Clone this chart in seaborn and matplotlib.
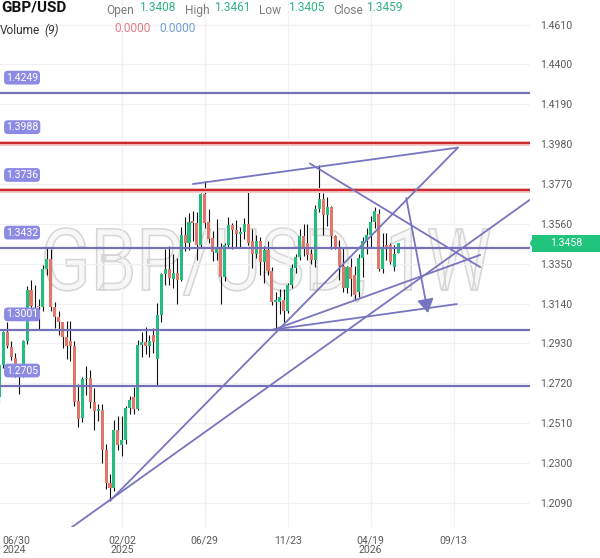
import numpy as np
import pandas as pd
import matplotlib
matplotlib.use("Agg")
import matplotlib.pyplot as plt
import seaborn as sns
from matplotlib.textpath import TextPath
from matplotlib.font_manager import FontProperties
from matplotlib.patches import PathPatch, Rectangle, Polygon
from matplotlib.transforms import Affine2D, IdentityTransform, blended_transform_factory

# ---------------- data (weekly GBP/USD candles, index 0 = week of 2024-06-30) ----------------
opens = [1.2645, 1.2815, 1.2990, 1.2910, 1.2855, 1.2800, 1.2760, 1.2945, 1.3212, 1.3125,
         1.3125, 1.3120, 1.3320, 1.3375, 1.3120, 1.3070, 1.3045, 1.2965, 1.2945, 1.2915,
         1.2625, 1.2535, 1.2740, 1.2745, 1.2620, 1.2575, 1.2580, 1.2370, 1.2195, 1.2165,
         1.2475, 1.2395, 1.2420, 1.2590, 1.2645, 1.2585, 1.2920, 1.2935, 1.2915, 1.2975,
         1.2850, 1.3080, 1.3295, 1.3320, 1.3270, 1.3300, 1.3265, 1.3500, 1.3460, 1.3575,
         1.3565, 1.3450, 1.3715, 1.3570, 1.3485, 1.3405, 1.3440, 1.3280, 1.3450, 1.3555,
         1.3525, 1.3505, 1.3515, 1.3560, 1.3470, 1.3400, 1.3470, 1.3360, 1.3420, 1.3310,
         1.3150, 1.3150, 1.3160, 1.3100, 1.3237, 1.3325, 1.3385, 1.3495, 1.3460, 1.3400,
         1.3370, 1.3637, 1.3690, 1.3605, 1.3650, 1.3495, 1.3432, 1.3340, 1.3220, 1.3330,
         1.3290, 1.3200, 1.3380, 1.3470, 1.3500, 1.3570, 1.3610, 1.3320, 1.3450, 1.3450,
         1.3330, 1.3408]
highs = [1.2820, 1.2995, 1.3045, 1.2940, 1.2880, 1.2810, 1.2950, 1.3230, 1.3265, 1.3240,
         1.3165, 1.3345, 1.3435, 1.3430, 1.3150, 1.3100, 1.3045, 1.3050, 1.3050, 1.2940,
         1.2715, 1.2750, 1.2810, 1.2790, 1.2695, 1.2610, 1.2610, 1.2400, 1.2240, 1.2525,
         1.2545, 1.2545, 1.2600, 1.2650, 1.2700, 1.2950, 1.2990, 1.3015, 1.2975, 1.3010,
         1.3145, 1.3300, 1.3425, 1.3445, 1.3400, 1.3380, 1.3545, 1.3595, 1.3615, 1.3630,
         1.3620, 1.3725, 1.3788, 1.3640, 1.3520, 1.3585, 1.3460, 1.3460, 1.3595, 1.3565,
         1.3580, 1.3545, 1.3590, 1.3726, 1.3535, 1.3500, 1.3490, 1.3445, 1.3470, 1.3330,
         1.3200, 1.3215, 1.3215, 1.3250, 1.3350, 1.3400, 1.3535, 1.3560, 1.3560, 1.3430,
         1.3660, 1.3868, 1.3720, 1.3700, 1.3655, 1.3500, 1.3475, 1.3440, 1.3340, 1.3380,
         1.3340, 1.3400, 1.3490, 1.3540, 1.3600, 1.3650, 1.3640, 1.3510, 1.3510, 1.3460,
         1.3450, 1.3461]
lows = [1.2615, 1.2800, 1.2905, 1.2840, 1.2750, 1.2665, 1.2755, 1.2925, 1.3100, 1.3090,
        1.3000, 1.3100, 1.3290, 1.3100, 1.3010, 1.2975, 1.2905, 1.2850, 1.2835, 1.2600,
        1.2487, 1.2515, 1.2660, 1.2590, 1.2475, 1.2520, 1.2300, 1.2160, 1.2100, 1.2150,
        1.2370, 1.2335, 1.2400, 1.2560, 1.2560, 1.2580, 1.2860, 1.2875, 1.2860, 1.2880,
        1.2708, 1.3040, 1.3235, 1.3240, 1.3220, 1.3140, 1.3260, 1.3415, 1.3420, 1.3470,
        1.3370, 1.3440, 1.3540, 1.3460, 1.3365, 1.3370, 1.3140, 1.3260, 1.3440, 1.3430,
        1.3440, 1.3440, 1.3480, 1.3450, 1.3325, 1.3380, 1.3290, 1.3250, 1.3290, 1.3130,
        1.3005, 1.3085, 1.3040, 1.3090, 1.3220, 1.3300, 1.3370, 1.3390, 1.3370, 1.3350,
        1.3330, 1.3620, 1.3500, 1.3550, 1.3430, 1.3425, 1.3265, 1.3200, 1.3195, 1.3180,
        1.3160, 1.3175, 1.3280, 1.3400, 1.3440, 1.3540, 1.3310, 1.3300, 1.3370, 1.3350,
        1.3310, 1.3405]
closes = [1.2815, 1.2990, 1.2915, 1.2860, 1.2810, 1.2770, 1.2945, 1.3212, 1.3125, 1.3128,
          1.3120, 1.3320, 1.3375, 1.3120, 1.3070, 1.3045, 1.2965, 1.2915, 1.2915, 1.2620,
          1.2530, 1.2740, 1.2745, 1.2620, 1.2575, 1.2585, 1.2370, 1.2195, 1.2165, 1.2475,
          1.2395, 1.2420, 1.2590, 1.2630, 1.2585, 1.2920, 1.2935, 1.2915, 1.2940, 1.2935,
          1.3080, 1.3295, 1.3320, 1.3275, 1.3300, 1.3265, 1.3500, 1.3460, 1.3570, 1.3565,
          1.3450, 1.3715, 1.3565, 1.3480, 1.3410, 1.3440, 1.3280, 1.3450, 1.3555, 1.3525,
          1.3505, 1.3515, 1.3560, 1.3460, 1.3400, 1.3470, 1.3360, 1.3420, 1.3310, 1.3150,
          1.3160, 1.3175, 1.3100, 1.3237, 1.3325, 1.3385, 1.3495, 1.3440, 1.3395, 1.3370,
          1.3637, 1.3690, 1.3605, 1.3650, 1.3495, 1.3432, 1.3340, 1.3220, 1.3330, 1.3270,
          1.3185, 1.3380, 1.3470, 1.3500, 1.3570, 1.3630, 1.3320, 1.3430, 1.3440, 1.3360,
          1.3400, 1.3459]

x_tick_pos = [31, 52, 73, 94, 115]
x_tick_labels = ["02/02\n2025", "06/29", "11/23", "04/19\n2026", "09/13"]
first_date_label = "06/30\n2024"
y_ticks = [1.2090, 1.2300, 1.2510, 1.2720, 1.2930, 1.3140, 1.3350,
           1.3560, 1.3770, 1.3980, 1.4190, 1.4400, 1.4610]

level_values = [1.4249, 1.3988, 1.3736, 1.3432, 1.3001, 1.2705]
level_kinds = ["support", "resistance", "resistance", "support", "support", "support"]

trend_x0 = [28.0, 15.8, 49.0, 78.6, 68.8, 69.3]
trend_y0 = [1.2100, 1.1923, 1.3770, 1.3878, 1.3001, 1.3001]
trend_x1 = [116.1, 134.3, 116.1, 121.7, 115.8, 121.7]
trend_y1 = [1.3962, 1.3687, 1.3962, 1.3332, 1.3137, 1.3396]

arrow_x = [103.0, 108.5]
arrow_y = [1.3696, 1.3090]

last_price = 1.3458
header_open, header_high, header_low, header_close = "1.3408", "1.3461", "1.3405", "1.3459"

# ---------------- style ----------------
sns.set_theme(style="white")
plt.rcParams["font.family"] = ["Roboto", "DejaVu Sans"]

GREEN = "#23bd80"
RED = "#e3766b"
PURPLE = "#7571b9"
TREND = "#7875c0"
LEVEL_RED = "#cc2a2e"
LABEL_BOX = "#8d8ae4"
GRID = "#f1f1f3"
TXT = "#5a5a5a"

W, H = 600, 558
fig = plt.figure(figsize=(W / 100, H / 100), dpi=100)
ax = fig.add_axes([0, 31 / H, 530 / W, 527 / H])

xlo, xhi = 0.152, 134.33
ylo, yhi = 1.19619, 1.47400

# watermark (outlined text) -----------------------------------------
fp = FontProperties(family="Roboto", weight="normal")
wm = TextPath((0, 0), "GBP/USD, 1W", size=100, prop=fp)
ext = wm.get_extents()
cap = TextPath((0, 0), "GBPUSD", size=100, prop=fp).get_extents()
sx = 445 / ext.width
sy = 62 / cap.ymax
wm_tr = Affine2D().translate(-ext.xmin, 0).scale(sx, sy).translate(45, H - 290) + IdentityTransform()
ax.add_artist(PathPatch(wm, transform=wm_tr, fc="#f7f7f7", ec="#d6d6d6", lw=1.1, zorder=0.5))

# candles ---------------------------------------------------------------
idx = np.arange(len(opens))
o = np.array(opens); c = np.array(closes)
body_bottom = np.minimum(o, c)
body_h = np.maximum(np.abs(c - o), 0.0004)
colors = [GREEN if cc >= oo else RED for oo, cc in zip(opens, closes)]
ax.vlines(idx, lows, highs, colors="#111111", lw=0.8, zorder=2.5)
ax.bar(idx, body_h, bottom=body_bottom, width=0.78, color=colors, linewidth=0, zorder=3)

# horizontal levels ----------------------------------------------------------
for v, kind in zip(level_values, level_kinds):
    if kind == "resistance":
        ax.axhline(v, color="#f3c9c9", lw=3.6, zorder=3.5)
        ax.axhline(v, color=LEVEL_RED, lw=1.6, zorder=3.6)
    else:
        ax.axhline(v, color=PURPLE, lw=1.6, zorder=3.6)
    ax.annotate(f"{v:.4f}", xy=(0, v), xycoords=("axes fraction", "data"),
                xytext=(6, 15.5), textcoords="offset pixels", ha="left", va="center",
                fontsize=7.6, color="white", zorder=6,
                bbox=dict(boxstyle="round,pad=0.18,rounding_size=0.35", fc=LABEL_BOX, ec="none"))

# trend lines (seaborn) ---------------------------------------------------
rows = []
for i, (a, b, cc, d) in enumerate(zip(trend_x0, trend_y0, trend_x1, trend_y1)):
    rows.append({"x": a, "y": b, "line": i})
    rows.append({"x": cc, "y": d, "line": i})
tdf = pd.DataFrame(rows)
sns.lineplot(data=tdf, x="x", y="y", units="line", estimator=None, sort=False,
             color=TREND, lw=1.3, ax=ax, zorder=4, legend=False)
ax.annotate("", xy=(arrow_x[1], arrow_y[1]), xytext=(arrow_x[0], arrow_y[0]),
            arrowprops=dict(arrowstyle="-|>,head_length=0.75,head_width=0.45", color=TREND,
                            lw=1.3, shrinkA=0, shrinkB=0, mutation_scale=11), zorder=4)

# axes ------------------------------------------------------------------------
ax.set_xlim(xlo, xhi)
ax.set_ylim(ylo, yhi)
ax.set_xlabel("")
ax.set_ylabel("")
for s in ax.spines.values():
    s.set_visible(False)
ax.yaxis.tick_right()
ax.set_yticks(y_ticks)
ax.set_yticklabels([f"{t:.4f}" for t in y_ticks])
ax.set_xticks(x_tick_pos)
ax.set_xticklabels(x_tick_labels)
ax.tick_params(axis="y", length=0, pad=7, labelsize=7.6, colors=TXT)
ax.tick_params(axis="x", length=0, pad=6, labelsize=7.6, colors=TXT)
for lbl in ax.get_xticklabels():
    lbl.set_linespacing(0.95)
ax.grid(True, color=GRID, lw=0.9, zorder=0)
ax.set_axisbelow(True)
ax.text(0.004, -0.0165, first_date_label, transform=ax.transAxes, ha="left", va="top",
        fontsize=7.6, color=TXT, linespacing=0.95)

# last price tag ---------------------------------------------------------------
bt = blended_transform_factory(ax.transAxes, ax.transData)
ax.add_patch(Rectangle((1.0035, last_price - 0.0045), 0.14, 0.0090, transform=bt,
                       fc="#20c47c", ec="none", clip_on=False, zorder=6))
ax.add_patch(Polygon([(0.9995, last_price), (1.0040, last_price + 0.0022),
                      (1.0040, last_price - 0.0022)], closed=True, transform=bt,
                     fc="#20c47c", ec="none", clip_on=False, zorder=6))
ax.text(1.068, last_price, f"{last_price:.4f}", transform=bt, ha="center", va="center",
        fontsize=7.6, color="white", zorder=7)

# header ------------------------------------------------------------------------
def ftext(x, y, s, **kw):
    fig.text(x / W, 1 - y / H, s, va="center", **kw)

ftext(1, 7.5, "GBP/USD", fontsize=11, fontweight="bold", color="#111111")
lab = dict(fontsize=8.6, color="#7c7c7c")
val = dict(fontsize=8.6, color="#2fb380")
ftext(106, 10.5, "Open", **lab)
ftext(139, 7.5, header_open, **val)
ftext(185, 10.5, "High", **lab)
ftext(214, 7.5, header_high, **val)
ftext(259, 10.5, "Low", **lab)
ftext(288, 7.5, header_low, **val)
ftext(333, 10.5, "Close", **lab)
ftext(366, 7.5, header_close, **val)
ftext(0, 30, "Volume", fontsize=8.6, color="#333333")
ftext(44, 30, "(9)", fontsize=8.6, color="#333333", fontstyle="italic")
ftext(114, 28.5, "0.0000", fontsize=8.6, color="#e07c82")
ftext(159, 28.5, "0.0000", fontsize=8.6, color="#6f9fd8")

fig.savefig("out.png", dpi=100)
